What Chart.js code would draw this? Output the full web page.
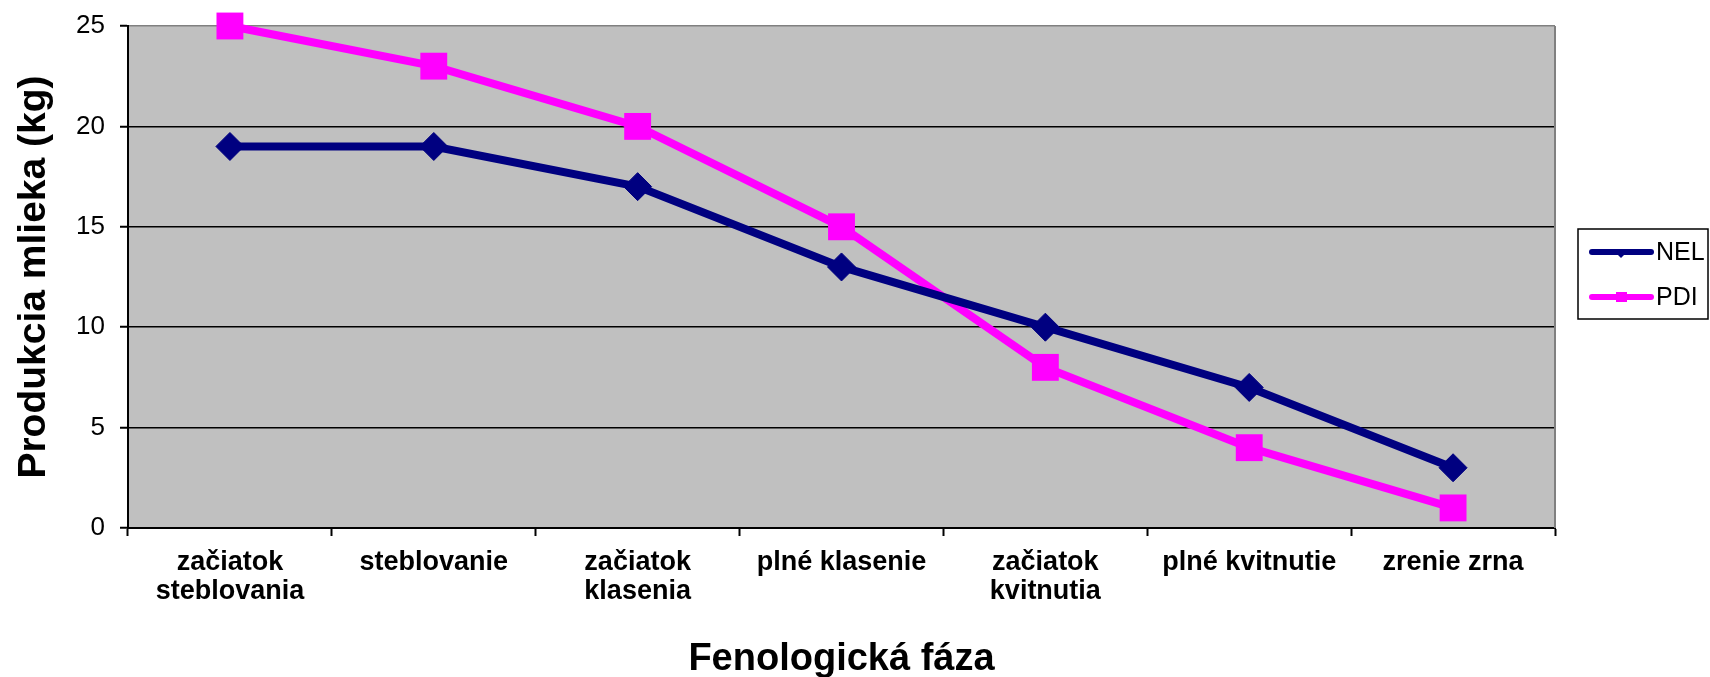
<!DOCTYPE html>
<html>
<head>
<meta charset="utf-8">
<script src="https://cdn.jsdelivr.net/npm/chart.js@4"></script>
<style>
    body { margin: 0; background: #ffffff; }
    canvas { display: block; }
</style>
</head>
<body>
<canvas id="chart" width="1710" height="677"></canvas>
<script>
const phases = [
    ['začiatok', 'steblovania'],
    'steblovanie',
    ['začiatok', 'klasenia'],
    'plné klasenie',
    ['začiatok', 'kvitnutia'],
    'plné kvitnutie',
    'zrenie zrna'
]
const nel = [19, 19, 17, 13, 10, 7, 3]
const pdi = [25, 23, 20, 15, 8, 4, 1]
const yTicks = [0, 5, 10, 15, 20, 25]

const font = 'Liberation Sans, Arial, sans-serif'

// grey plot area with the gray frame on top/right
const plotArea = {
    id: 'plotArea',
    beforeDraw(chart) {
        const { ctx, chartArea: a } = chart
        ctx.save()
        ctx.fillStyle = '#c0c0c0'
        ctx.fillRect(a.left, a.top, a.right - a.left, a.bottom - a.top)
        ctx.restore()
    },
    beforeDatasetsDraw(chart) {
        const { ctx, chartArea: a } = chart
        ctx.save()
        ctx.strokeStyle = '#808080'
        ctx.lineWidth = 2
        ctx.beginPath()
        ctx.moveTo(a.right, a.top)
        ctx.lineTo(a.right, a.bottom)
        ctx.stroke()
        ctx.restore()
    }
}

// excel style legend box: line sample with marker, then label
const boxLegend = {
    id: 'boxLegend',
    afterDraw(chart) {
        const ctx = chart.ctx
        const x = 1578, y = 229, w = 130, h = 90
        ctx.save()
        ctx.strokeStyle = '#000'
        ctx.lineWidth = 1.5
        ctx.strokeRect(x, y, w, h)
        chart.data.datasets.forEach((ds, i) => {
            const cy = 252 + i * 45
            ctx.strokeStyle = ds.borderColor
            ctx.lineWidth = 6
            ctx.lineCap = 'round'
            ctx.beginPath()
            ctx.moveTo(1592, cy)
            ctx.lineTo(1651, cy)
            ctx.stroke()
            ctx.fillStyle = ds.borderColor
            if (ds.pointStyle === 'rect') {
                ctx.fillRect(1616, cy - 5, 11, 10)
            } else {
                ctx.beginPath()
                ctx.moveTo(1621, cy - 2)
                ctx.lineTo(1625, cy + 2)
                ctx.lineTo(1621, cy + 6)
                ctx.lineTo(1617, cy + 2)
                ctx.closePath()
                ctx.fill()
            }
            ctx.fillStyle = '#000'
            ctx.font = '25px ' + font
            ctx.textBaseline = 'middle'
            ctx.textAlign = 'left'
            ctx.fillText(ds.label, 1656, cy + 1)
        })
        ctx.restore()
    }
}

new Chart(document.getElementById('chart'), {
    type: 'line',
    data: {
        labels: phases,
        datasets: [
            {
                label: 'NEL',
                data: nel,
                borderColor: '#000080',
                backgroundColor: '#000080',
                borderWidth: 8,
                pointStyle: 'rectRot',
                pointRadius: 14,
                pointBorderWidth: 1,
                tension: 0,
                clip: false
            },
            {
                label: 'PDI',
                data: pdi,
                borderColor: '#ff00ff',
                backgroundColor: '#ff00ff',
                borderWidth: 8,
                pointStyle: 'rect',
                pointRadius: 19,
                pointBorderWidth: 0,
                tension: 0,
                clip: false
            }
        ]
    },
    options: {
        responsive: false,
        animation: false,
        layout: { autoPadding: false, padding: { top: 26, right: 155, left: 0, bottom: 0 } },
        plugins: {
            legend: { display: false },
            tooltip: { enabled: false }
        },
        scales: {
            x: {
                offset: true,
                afterFit: scale => { scale.height = 149 },
                border: { color: '#000', width: 2 },
                grid: {
                    offset: true,
                    drawOnChartArea: false,
                    drawTicks: true,
                    tickLength: 8,
                    tickColor: '#000',
                    tickWidth: 2
                },
                ticks: {
                    color: '#000',
                    padding: 12,
                    maxRotation: 0,
                    autoSkip: false,
                    font: { family: font, size: 27, weight: 'bold', lineHeight: 1.08 }
                },
                title: {
                    display: true,
                    text: 'Fenologická fáza',
                    color: '#000',
                    padding: { top: 0, bottom: 0 },
                    font: { family: font, size: 38, weight: 'bold', lineHeight: 0.9 }
                }
            },
            y: {
                min: 0,
                max: 25,
                afterFit: scale => { scale.width = 128 },
                afterBuildTicks: scale => { scale.ticks = yTicks.map(v => ({ value: v })) },
                border: { color: '#000', width: 2 },
                grid: {
                    color: c => c.tick && c.tick.value === 25 ? '#808080' : '#000',
                    lineWidth: 1.5,
                    drawTicks: true,
                    tickLength: 8,
                    tickColor: '#000',
                    tickWidth: 2
                },
                ticks: {
                    color: '#000',
                    padding: 15,
                    // small lineHeight keeps the top label from pushing the plot down
                    font: { family: font, size: 26, lineHeight: 0.5 }
                },
                title: {
                    display: true,
                    text: 'Produkcia mlieka (kg)',
                    color: '#000',
                    padding: { top: 11, bottom: 0 },
                    font: { family: font, size: 39, weight: 'bold', lineHeight: 1.2 }
                }
            }
        }
    },
    plugins: [plotArea, boxLegend]
})
</script>
</body>
</html>
